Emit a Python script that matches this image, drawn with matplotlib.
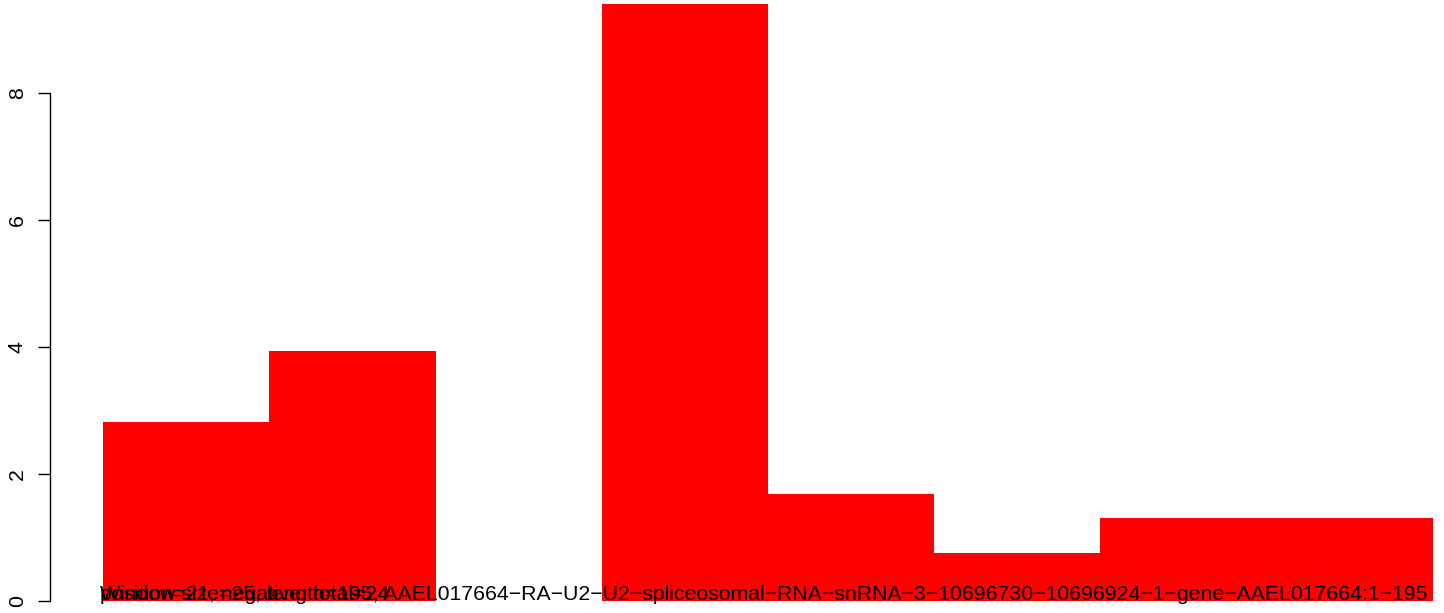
# bar chart of window counts
import matplotlib
matplotlib.use("Agg")
import matplotlib.pyplot as plt

# data
values = [2.82, 3.93, 0.0, 9.40, 1.69, 0.75, 1.31, 1.31]
yticks = [0, 2, 4, 6, 8]
label_a = ("Window size=25, length=195, AAEL017664\u2212RA\u2212U2\u2212U2\u2212"
           "spliceosomal\u2212RNA\u2212snRNA\u22123\u221210696730\u2212"
           "10696924\u22121\u2212gene\u2212AAEL017664:1\u2212195")
label_b = "position=21, negative, total=24"

plt.rcParams["font.family"] = ["Liberation Sans", "DejaVu Sans"]

W, H = 1444, 613
fig = plt.figure(figsize=(W / 100, H / 100), dpi=100)

# axes placed in pixels: left edge at x=50, bars start at 103, 166.25 px per bar
px_per_bar = 166.25
px_per_unit = 63.5
left_px = 50
ax = fig.add_axes([left_px / W, 0, 1 - left_px / W, 1])
ax.set_xlim(-(103 - left_px) / px_per_bar, (W - 103) / px_per_bar)
ax.set_ylim(-(H - 601) / px_per_unit, 601 / px_per_unit)

ax.bar(range(len(values)), values, width=1.0, align="edge",
       color="#ff0000", linewidth=0)

for s in ["top", "right", "bottom"]:
    ax.spines[s].set_visible(False)
ax.spines["left"].set_bounds(0, 8)
ax.spines["left"].set_linewidth(1.0)
ax.set_xticks([])
ax.set_yticks(yticks)
ax.set_yticklabels([str(t) for t in yticks], rotation=90, va="center",
                   fontsize=15.3)
ax.tick_params(axis="y", length=8.6, width=1.0, pad=8)

# overlapping labels at the bottom
for txt in [label_a, label_b]:
    fig.text(100 / W, 1 - 600 / H, txt, fontsize=15.3, ha="left",
             va="baseline", color="black")

fig.savefig("out.png", dpi=100)
